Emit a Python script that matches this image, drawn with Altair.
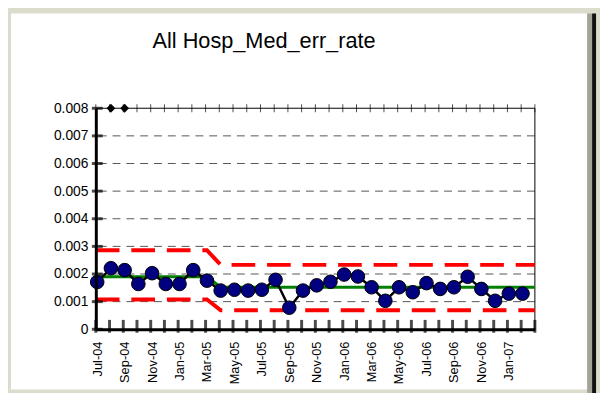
import altair as alt
import pandas as pd

months = ["Jul-04", "Aug-04", "Sep-04", "Oct-04", "Nov-04", "Dec-04", "Jan-05", "Feb-05",
          "Mar-05", "Apr-05", "May-05", "Jun-05", "Jul-05", "Aug-05", "Sep-05", "Oct-05",
          "Nov-05", "Dec-05", "Jan-06", "Feb-06", "Mar-06", "Apr-06", "May-06", "Jun-06",
          "Jul-06", "Aug-06", "Sep-06", "Oct-06", "Nov-06", "Dec-06", "Jan-07", "Feb-07"]
rates = [0.00171, 0.00221, 0.00214, 0.00164, 0.00203, 0.00164, 0.00164, 0.00214,
         0.00176, 0.00140, 0.00143, 0.00140, 0.00143, 0.00179, 0.00078, 0.00140,
         0.00159, 0.00172, 0.00198, 0.00191, 0.00152, 0.00103, 0.00152, 0.00134,
         0.00167, 0.00146, 0.00152, 0.00190, 0.00146, 0.00103, 0.00129, 0.00129]

limit_x = [-0.1, 8, 9, 31.9]
center_y = [0.00190, 0.00190, 0.00152, 0.00152]
ucl_y = [0.00286, 0.00286, 0.00233, 0.00233]
lcl_y = [0.00108, 0.00108, 0.00069, 0.00069]
flag_idx = [1, 2]
flag_y = [0.008, 0.008]
y_ticks = [0, 0.001, 0.002, 0.003, 0.004, 0.005, 0.006, 0.007, 0.008]
grid_vals = [0.001, 0.002, 0.003, 0.004, 0.005, 0.006, 0.007]
label_idx = list(range(0, 32, 2))
x_min, x_max, y_min, y_max = -0.1, 31.9, 0.0, 0.008
tick_pos = [k - 0.1 for k in range(33)]

FONT = "Liberation Sans, Arial, sans-serif"

xs = alt.Scale(domain=[x_min, x_max], nice=False, zero=False)
ys = alt.Scale(domain=[y_min, y_max], nice=False, zero=False)

label_expr = "[" + ",".join("'%s'" % m for m in months) + "][datum.value]"
x_axis = alt.Axis(values=label_idx, labelExpr=label_expr, labelAngle=270, ticks=False,
                  grid=False, domain=True, domainWidth=3, domainColor="black",
                  labelPadding=12, labelFont=FONT, labelFontSize=13, labelColor="black",
                  title=None, labelOverlap=False, zindex=1)
y_axis = alt.Axis(values=y_ticks, labelExpr="datum.value == 0 ? '0' : format(datum.value, '.3f')",
                  ticks=False, grid=False, domain=True, domainWidth=3, domainColor="black",
                  labelPadding=8, labelFont=FONT, labelFontSize=14, labelColor="black",
                  title=None, zindex=1)


def X(f):
    return alt.X(f + ":Q", scale=xs, axis=x_axis)


def Y(f):
    return alt.Y(f + ":Q", scale=ys, axis=y_axis)


df = pd.DataFrame({"x": list(range(len(rates))), "y": rates, "m": months})
lim = pd.DataFrame({"x": limit_x, "c": center_y, "u": ucl_y, "l": lcl_y})
one = pd.DataFrame({"x": [x_min], "y": [y_min]})

bg = alt.Chart(one).mark_rect(color="white").encode(
    x=alt.value(-86), x2=alt.value(498), y=alt.value(-96), y2=alt.value(285))
gray_strip = alt.Chart(one).mark_rect(color="#a4a496").encode(
    x=alt.value(498), x2=alt.value(503), y=alt.value(-96), y2=alt.value(290))
black_strip = alt.Chart(one).mark_rect(color="#111111").encode(
    x=alt.value(503), x2=alt.value(507), y=alt.value(-96), y2=alt.value(290))

grid = alt.Chart(pd.DataFrame({"y": grid_vals})).mark_rule(
    color="#555555", strokeWidth=1, strokeDash=[8, 6]).encode(y=Y("y"))

top_line = alt.Chart(pd.DataFrame({"y": [y_max]})).mark_rule(
    color="black", strokeWidth=1).encode(y=Y("y"))
right_line = alt.Chart(pd.DataFrame({"x": [x_max]})).mark_rule(
    color="black", strokeWidth=1).encode(x=X("x"))

top_ticks = alt.Chart(pd.DataFrame({"x": tick_pos, "y": [y_max] * len(tick_pos)})).mark_tick(
    orient="vertical", color="black", thickness=1, size=8).encode(x=X("x"), y=Y("y"))
bot_ticks = alt.Chart(pd.DataFrame({"x": tick_pos, "y": [y_min] * len(tick_pos)})).mark_tick(
    orient="vertical", color="black", thickness=3, size=13, yOffset=-3).encode(x=X("x"), y=Y("y"))
left_ticks = alt.Chart(pd.DataFrame({"y": y_ticks, "x": [x_min] * len(y_ticks)})).mark_tick(
    orient="horizontal", color="black", thickness=3, size=11, xOffset=1.5).encode(x=X("x"), y=Y("y"))

base_lim = alt.Chart(lim)
center = base_lim.mark_line(color="#008000", strokeWidth=3).encode(x=X("x"), y=Y("c"))
ucl = base_lim.mark_line(color="#ff0000", strokeWidth=4, strokeDash=[24, 12]).encode(
    x=X("x"), y=Y("u"))
lcl = base_lim.mark_line(color="#ff0000", strokeWidth=4, strokeDash=[24, 12]).encode(
    x=X("x"), y=Y("l"))

base = alt.Chart(df)
series_line = base.mark_line(color="black", strokeWidth=2.5).encode(x=X("x"), y=Y("y"))
series_pts = base.mark_point(shape="circle", filled=True, size=190, fill="#000080",
                             stroke="black", strokeWidth=1, opacity=1).encode(x=X("x"), y=Y("y"))

flags = alt.Chart(pd.DataFrame({"x": flag_idx, "y": flag_y})).mark_point(
    shape="diamond", filled=True, color="black", size=80, opacity=1).encode(x=X("x"), y=Y("y"))

chart = alt.layer(
    bg, gray_strip, black_strip, grid, top_line, right_line, center, ucl, lcl,
    series_line, series_pts, top_ticks, bot_ticks, left_ticks, flags
).properties(
    width=445, height=224,
    title=alt.TitleParams("All Hosp_Med_err_rate", font=FONT, fontSize=22,
                          fontWeight="normal", color="black", anchor="middle",
                          dx=-52, offset=-57, baseline="alphabetic"),
    autosize=alt.AutoSizeParams(type="none"),
    padding={"left": 89, "top": 99, "right": 66, "bottom": 62},
    background="#dcdccd",
).configure_view(stroke=None)

chart.save("out.html", embed_options={"renderer": "svg", "actions": False})
